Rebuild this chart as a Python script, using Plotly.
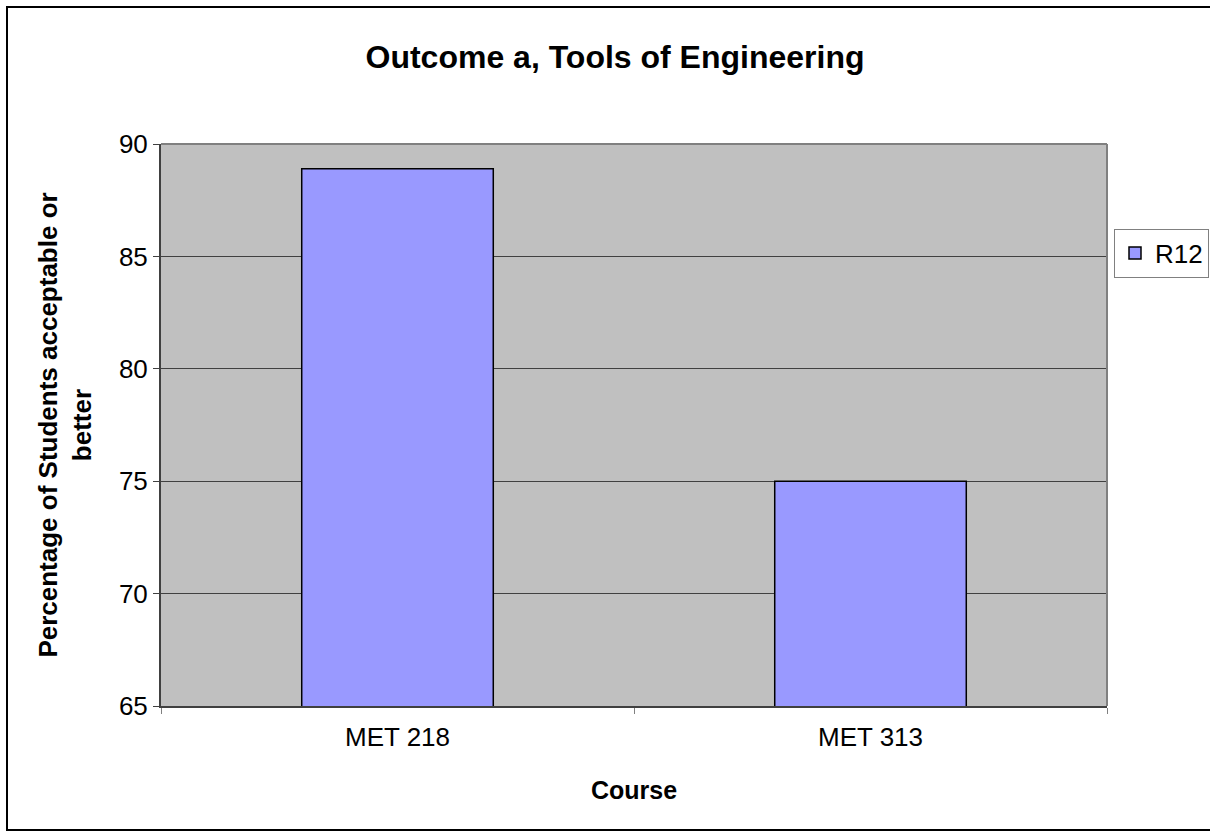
import plotly.graph_objects as go

courses = ["MET 218", "MET 313"]
r12_values = [88.9, 75.0]
y_ticks = [65, 70, 75, 80, 85, 90]

FONT = "Liberation Sans, Arial, sans-serif"
W, H = 1210, 831
L, R, T, B = 161, 103, 144, 125
pw, ph = W - L - R, H - T - B

fig = go.Figure()
fig.add_trace(go.Bar(
    x=courses, y=r12_values, name="R12",
    marker=dict(color="#9999FF", line=dict(color="black", width=1.5)),
))

fig.update_layout(
    width=W, height=H,
    margin=dict(l=L, r=R, t=T, b=B, autoexpand=False),
    paper_bgcolor="white", plot_bgcolor="#C0C0C0",
    font=dict(family=FONT, color="black", size=26),
    title=dict(text="<b>Outcome a, Tools of Engineering</b>", x=615 / W, xref="container",
               xanchor="center", y=1 - 57 / H, yanchor="middle",
               font=dict(size=32, family=FONT)),
    bargap=0.595,
    showlegend=True,
    legend=dict(x=(1114 - L) / pw, xanchor="left", y=(H - B - 253) / ph, yanchor="middle",
                bgcolor="white", bordercolor="#808080", borderwidth=1,
                font=dict(size=26, family=FONT), itemwidth=30),
)

fig.update_xaxes(
    type="category", showgrid=False, ticks="outside", tickson="boundaries",
    ticklen=6, tickcolor="#808080", showline=True, linecolor="#404040", linewidth=2,
    title=dict(text="<b>Course</b>", font=dict(size=25, family=FONT), standoff=30),
    tickfont=dict(size=26), ticklabelstandoff=7,
)
fig.update_yaxes(
    range=[65, 90], tickvals=y_ticks, ticks="outside", ticklen=6, tickcolor="#404040",
    showgrid=True, gridcolor="#404040", gridwidth=1,
    showline=True, linecolor="#404040", linewidth=2,
    title=dict(text="<b>Percentage of Students acceptable or<br>better</b>",
               font=dict(size=26, family=FONT), standoff=20),
    tickfont=dict(size=26),
)

# plot area top/right border
fig.add_shape(type="line", xref="paper", yref="paper", x0=0, x1=1, y0=1, y1=1,
              line=dict(color="#808080", width=2))
fig.add_shape(type="line", xref="paper", yref="paper", x0=1, x1=1, y0=0, y1=1,
              line=dict(color="#808080", width=2))

# outer chart border
fig.add_shape(type="rect", xref="paper", yref="paper",
              x0=(7 - L) / pw, x1=(1225 - L) / pw,
              y0=(H - B - 830) / ph, y1=(H - B - 7) / ph,
              line=dict(color="black", width=2), fillcolor="rgba(0,0,0,0)", layer="above")

fig.write_html("out.html", config={"displayModeBar": False},
               post_script="document.body.style.margin='0';")
